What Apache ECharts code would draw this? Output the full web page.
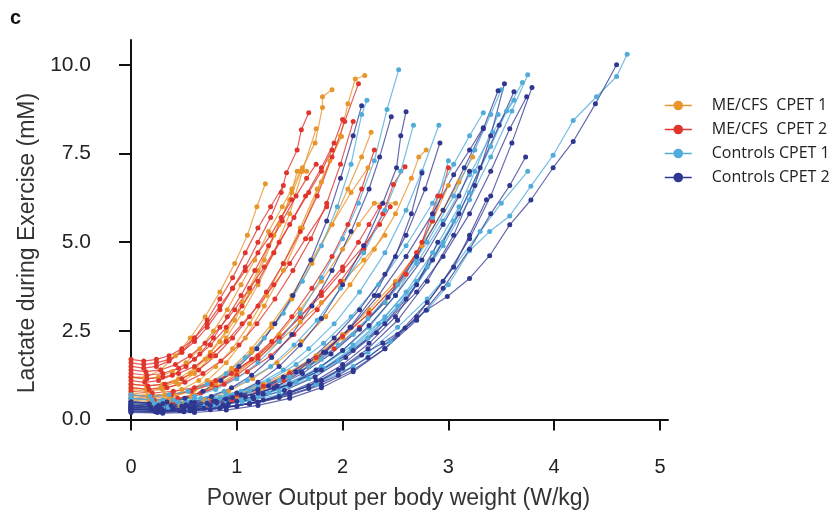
<!DOCTYPE html>
<html>
<head>
<meta charset="utf-8">
<script src="https://cdn.jsdelivr.net/npm/echarts@6/dist/echarts.min.js"></script>
<style>html,body{margin:0;padding:0;background:#fff}#c{width:834px;height:517px}</style>
</head>
<body>
<div id="c"></div>
<script>
const seriesNames = ['ME/CFS  CPET 1', 'ME/CFS  CPET 2', 'Controls CPET 1', 'Controls CPET 2'];
const xTicks = [0, 1, 2, 3, 4, 5];
const yTicks = [0, 2.5, 5, 7.5, 10];

// ME/CFS CPET 1 (orange) – one array of [W/kg, mM] per subject
const mecfsCpet1 = [
  [[0,1.2],[0.14,1.2],[0.28,1.4],[0.42,1.8],[0.56,2.3],[0.7,2.9],[0.84,3.6],[0.98,4.4],[1.1,5.2],[1.19,6.0],[1.27,6.65]],
  [[0,1.0],[0.15,0.95],[0.3,1.0],[0.45,1.15],[0.6,1.45],[0.75,1.9],[0.9,2.5],[1.05,3.3],[1.2,4.2],[1.35,5.2],[1.5,6.2],[1.62,7.1],[1.74,7.8],[1.81,8.8],[1.81,9.1],[1.9,9.3]],
  [[0,0.6],[0.18,0.55],[0.36,0.6],[0.54,0.8],[0.72,1.1],[0.9,1.6],[1.08,2.3],[1.26,3.2],[1.44,4.2],[1.62,5.4],[1.8,6.7],[1.98,8.0],[2.05,8.9],[2.12,9.6],[2.21,9.7]],
  [[0,0.5],[0.19,0.45],[0.38,0.5],[0.57,0.65],[0.76,0.95],[0.95,1.35],[1.14,1.9],[1.33,2.6],[1.52,3.4],[1.71,4.4],[1.9,5.5],[2.05,6.5],[2.18,7.4],[2.27,8.1]],
  [[0,0.4],[0.23,0.35],[0.46,0.4],[0.69,0.55],[0.92,0.8],[1.15,1.15],[1.38,1.6],[1.61,2.2],[1.84,2.9],[2.07,3.8],[2.3,4.8],[2.5,5.8],[2.65,6.8],[2.72,7.4],[2.79,7.6]],
  [[0,1.2],[0.13,1.15],[0.26,1.2],[0.39,1.35],[0.52,1.6],[0.65,2.0],[0.78,2.5],[0.91,3.1],[1.04,3.8],[1.17,4.5],[1.3,5.3],[1.43,6.0],[1.52,6.5],[1.6,7.0]],
  [[0,0.7],[0.16,0.65],[0.32,0.7],[0.48,0.85],[0.64,1.1],[0.8,1.5],[0.96,2.0],[1.12,2.7],[1.28,3.5],[1.44,4.4],[1.6,5.4],[1.76,6.5],[1.88,7.3],[1.99,7.98]],
  [[0,0.55],[0.2,0.5],[0.4,0.55],[0.6,0.7],[0.8,0.95],[1.0,1.3],[1.2,1.8],[1.4,2.4],[1.6,3.1],[1.8,3.9],[2.0,4.8],[2.15,5.5],[2.3,6.1],[2.5,6.1]],
  [[0,0.45],[0.25,0.4],[0.5,0.45],[0.75,0.55],[1.0,0.75],[1.25,1.0],[1.5,1.35],[1.75,1.8],[2.0,2.4],[2.25,3.1],[2.5,3.9],[2.75,4.9],[2.95,5.9],[3.1,6.7],[3.23,7.4]],
  [[0,0.9],[0.14,0.85],[0.28,0.9],[0.42,1.05],[0.56,1.3],[0.7,1.7],[0.84,2.2],[0.98,2.8],[1.12,3.6],[1.26,4.5],[1.4,5.5],[1.52,6.4],[1.57,7.0],[1.66,7.0]],
  [[0,0.65],[0.19,0.6],[0.38,0.65],[0.57,0.8],[0.76,1.05],[0.95,1.45],[1.14,2.0],[1.33,2.7],[1.52,3.5],[1.71,4.5],[1.9,5.5],[2.08,6.4],[2.24,7.1]],
  [[0,0.35],[0.25,0.3],[0.5,0.35],[0.75,0.45],[1.0,0.65],[1.25,0.9],[1.5,1.25],[1.75,1.7],[2.0,2.3],[2.25,3.0],[2.5,3.8],[2.7,4.7],[2.85,5.6],[3.0,6.6]],
  [[0,0.85],[0.15,0.8],[0.3,0.85],[0.45,1.0],[0.6,1.3],[0.75,1.75],[0.9,2.3],[1.05,3.0],[1.2,3.8],[1.35,4.7],[1.5,5.8],[1.62,7.0],[1.75,8.2]],
  [[0,0.75],[0.2,0.7],[0.4,0.72],[0.6,0.85],[0.8,1.05],[1.0,1.35],[1.2,1.75],[1.4,2.2],[1.6,2.75],[1.8,3.3],[2.0,3.9],[2.2,4.5],[2.4,5.2]]
];

// ME/CFS CPET 2 (red)
const mecfsCpet2 = [
  [[0,1.6],[0.12,1.55],[0.24,1.6],[0.36,1.7],[0.48,1.9],[0.6,2.2],[0.72,2.6],[0.84,3.1],[0.96,3.7],[1.08,4.3],[1.2,5.0],[1.32,5.7],[1.42,6.4],[1.47,6.96],[1.57,7.6],[1.61,8.17],[1.68,8.65]],
  [[0,1.0],[0.16,0.95],[0.32,1.0],[0.48,1.15],[0.64,1.4],[0.8,1.8],[0.96,2.3],[1.12,2.9],[1.28,3.6],[1.44,4.4],[1.6,5.3],[1.76,6.3],[1.9,7.4],[2.02,8.4],[2.15,9.47]],
  [[0,1.3],[0.15,1.25],[0.3,1.3],[0.45,1.45],[0.6,1.7],[0.75,2.1],[0.9,2.6],[1.05,3.2],[1.2,3.9],[1.35,4.7],[1.5,5.5],[1.65,6.3],[1.8,7.1],[1.92,7.8],[2.0,8.46]],
  [[0,1.5],[0.12,1.45],[0.24,1.5],[0.36,1.65],[0.48,1.9],[0.6,2.3],[0.72,2.8],[0.84,3.4],[0.96,4.0],[1.08,4.7],[1.2,5.4],[1.32,6.0],[1.44,6.6]],
  [[0,0.6],[0.22,0.55],[0.44,0.6],[0.66,0.75],[0.88,1.0],[1.1,1.35],[1.32,1.8],[1.54,2.4],[1.76,3.1],[1.98,3.9],[2.2,4.8],[2.38,5.8],[2.48,6.63],[2.59,7.13]],
  [[0,0.9],[0.17,0.85],[0.34,0.9],[0.51,1.05],[0.68,1.3],[0.85,1.65],[1.02,2.1],[1.19,2.7],[1.36,3.4],[1.53,4.2],[1.7,5.1],[1.85,6.1],[1.98,7.2],[2.1,8.4]],
  [[0,0.4],[0.25,0.35],[0.5,0.4],[0.75,0.5],[1.0,0.7],[1.25,0.95],[1.5,1.3],[1.75,1.75],[2.0,2.35],[2.25,3.0],[2.5,3.8],[2.7,4.7],[2.85,5.6],[2.93,6.3],[3.0,7.1]],
  [[0,1.4],[0.14,1.35],[0.28,1.4],[0.42,1.55],[0.56,1.8],[0.7,2.15],[0.84,2.6],[0.98,3.1],[1.12,3.7],[1.26,4.3],[1.4,5.0],[1.54,5.7],[1.68,6.4],[1.8,7.0],[1.9,7.6]],
  [[0,1.1],[0.13,1.05],[0.26,1.1],[0.39,1.25],[0.52,1.5],[0.65,1.85],[0.78,2.3],[0.91,2.9],[1.04,3.5],[1.17,4.2],[1.3,4.9],[1.43,5.6],[1.56,6.3],[1.66,6.8],[1.75,7.2]],
  [[0,0.5],[0.2,0.45],[0.4,0.5],[0.6,0.65],[0.8,0.9],[1.0,1.25],[1.2,1.7],[1.4,2.3],[1.6,2.9],[1.8,3.6],[2.0,4.3],[2.15,5.0],[2.25,5.5],[2.35,6.0]],
  [[0,0.3],[0.24,0.28],[0.48,0.3],[0.72,0.4],[0.96,0.55],[1.2,0.8],[1.44,1.1],[1.68,1.5],[1.92,2.0],[2.16,2.6],[2.4,3.3],[2.6,4.1],[2.75,5.0],[2.9,6.3]],
  [[0,1.7],[0.12,1.65],[0.24,1.7],[0.36,1.8],[0.48,2.0],[0.6,2.3],[0.72,2.7],[0.84,3.2],[0.96,3.7],[1.08,4.2],[1.2,4.7],[1.32,5.2],[1.42,5.7],[1.52,6.2]],
  [[0,0.8],[0.2,0.75],[0.4,0.8],[0.6,0.9],[0.8,1.1],[1.0,1.4],[1.2,1.8],[1.4,2.3],[1.6,2.9],[1.8,3.5],[2.0,4.2],[2.2,4.9],[2.35,5.5],[2.45,6.0]],
  [[0,1.2],[0.15,1.15],[0.3,1.2],[0.45,1.3],[0.6,1.5],[0.75,1.8],[0.9,2.2],[1.05,2.7],[1.2,3.2],[1.35,3.8],[1.5,4.4],[1.65,5.1],[1.85,6.0]],
  [[0,0.7],[0.19,0.65],[0.38,0.7],[0.57,0.8],[0.76,1.0],[0.95,1.3],[1.14,1.7],[1.33,2.2],[1.52,2.9],[1.71,3.7],[1.9,4.6],[2.05,5.5],[2.18,6.5],[2.3,7.6]]
];

// Controls CPET 1 (light blue)
const controlsCpet1 = [
  [[0,0.6],[0.2,0.55],[0.4,0.55],[0.6,0.65],[0.8,0.85],[1.0,1.15],[1.2,1.6],[1.4,2.2],[1.6,3.0],[1.8,4.0],[2.0,5.1],[2.15,6.1],[2.3,7.3],[2.42,8.74],[2.53,9.86]],
  [[0,0.4],[0.24,0.38],[0.48,0.4],[0.72,0.5],[0.96,0.7],[1.2,1.0],[1.44,1.4],[1.68,2.0],[1.92,2.7],[2.16,3.6],[2.4,4.7],[2.6,5.9],[2.75,7.0],[2.91,8.3]],
  [[0,0.5],[0.22,0.45],[0.44,0.5],[0.66,0.6],[0.88,0.8],[1.1,1.1],[1.32,1.5],[1.54,2.1],[1.76,2.8],[1.98,3.7],[2.2,4.7],[2.4,5.9],[2.55,7.0],[2.67,8.3]],
  [[0,0.35],[0.3,0.3],[0.6,0.35],[0.9,0.45],[1.2,0.65],[1.5,0.95],[1.8,1.4],[2.1,2.0],[2.4,2.8],[2.7,3.8],[2.95,4.9],[3.2,6.2],[3.4,7.4],[3.6,8.7],[3.75,9.72]],
  [[0,0.4],[0.35,0.35],[0.7,0.4],[1.05,0.5],[1.4,0.7],[1.75,1.0],[2.1,1.5],[2.45,2.2],[2.8,3.1],[3.0,3.8],[3.2,4.76],[3.39,5.3],[3.58,5.74],[3.78,6.58],[3.99,7.45],[4.18,8.43],[4.4,9.1],[4.59,9.67],[4.69,10.3]],
  [[0,0.5],[0.26,0.45],[0.52,0.5],[0.78,0.6],[1.04,0.8],[1.3,1.1],[1.56,1.55],[1.82,2.15],[2.08,2.9],[2.34,3.8],[2.6,4.9],[2.85,6.1],[3.05,7.2],[3.2,8.0],[3.33,8.65]],
  [[0,0.3],[0.28,0.28],[0.56,0.3],[0.84,0.4],[1.12,0.55],[1.4,0.8],[1.68,1.15],[1.96,1.65],[2.24,2.3],[2.52,3.2],[2.8,4.3],[3.05,5.6],[3.25,7.0],[3.47,8.6]],
  [[0,0.25],[0.28,0.22],[0.56,0.25],[0.84,0.32],[1.12,0.45],[1.4,0.65],[1.68,0.95],[1.96,1.35],[2.24,1.9],[2.52,2.6],[2.8,3.4],[3.05,4.3],[3.3,5.3],[3.5,6.1],[3.75,7.0]],
  [[0,0.6],[0.3,0.55],[0.6,0.6],[0.9,0.7],[1.2,0.9],[1.5,1.2],[1.8,1.7],[2.1,2.4],[2.4,3.3],[2.7,4.4],[2.95,5.6],[3.2,6.9],[3.42,8.1],[3.62,9.0]],
  [[0,0.7],[0.18,0.65],[0.36,0.7],[0.54,0.8],[0.72,1.0],[0.9,1.3],[1.08,1.75],[1.26,2.3],[1.44,3.0],[1.62,3.9],[1.8,4.9],[1.95,6.0],[2.08,7.2],[2.18,8.6],[2.23,9.0]],
  [[0,0.35],[0.26,0.3],[0.52,0.35],[0.78,0.42],[1.04,0.55],[1.3,0.75],[1.56,1.05],[1.82,1.45],[2.08,2.0],[2.34,2.7],[2.6,3.6],[2.85,4.7],[3.1,6.0]],
  [[0,0.45],[0.3,0.4],[0.6,0.45],[0.9,0.55],[1.2,0.75],[1.5,1.05],[1.8,1.5],[2.1,2.1],[2.4,2.9],[2.7,3.9],[2.95,5.0],[3.2,6.4],[3.4,7.7],[3.55,8.7],[3.7,9.5]],
  [[0,0.3],[0.25,0.28],[0.5,0.3],[0.75,0.38],[1.0,0.5],[1.25,0.7],[1.5,1.0],[1.75,1.4],[2.0,1.95],[2.25,2.6],[2.5,3.5],[2.7,4.5],[2.85,5.7],[3.0,7.3]],
  [[0,0.5],[0.28,0.45],[0.56,0.5],[0.84,0.6],[1.12,0.8],[1.4,1.1],[1.68,1.5],[1.96,2.1],[2.24,2.85],[2.52,3.8],[2.8,5.0],[3.05,6.3],[3.25,7.6],[3.4,8.6],[3.5,9.3]]
];

// Controls CPET 2 (dark blue)
const controlsCpet2 = [
  [[0,0.5],[0.17,0.45],[0.34,0.5],[0.51,0.6],[0.68,0.8],[0.85,1.1],[1.02,1.5],[1.19,2.0],[1.36,2.7],[1.53,3.5],[1.7,4.5],[1.85,5.6],[1.98,6.8],[2.1,8.0],[2.18,8.85]],
  [[0,0.3],[0.2,0.28],[0.4,0.3],[0.6,0.38],[0.8,0.52],[1.0,0.75],[1.2,1.05],[1.4,1.5],[1.6,2.1],[1.8,2.85],[2.0,3.8],[2.2,4.9],[2.38,6.1],[2.51,7.1],[2.55,8.0],[2.6,8.68]],
  [[0,0.4],[0.19,0.35],[0.38,0.4],[0.57,0.48],[0.76,0.65],[0.95,0.9],[1.14,1.25],[1.33,1.75],[1.52,2.4],[1.71,3.2],[1.9,4.2],[2.08,5.3],[2.25,6.5],[2.35,7.4],[2.46,8.54]],
  [[0,0.25],[0.23,0.22],[0.46,0.25],[0.69,0.32],[0.92,0.45],[1.15,0.65],[1.38,0.95],[1.61,1.35],[1.84,1.9],[2.07,2.6],[2.3,3.5],[2.5,4.6],[2.65,5.8],[2.75,6.95]],
  [[0,0.3],[0.3,0.25],[0.6,0.28],[0.9,0.35],[1.2,0.5],[1.5,0.75],[1.8,1.1],[2.0,1.45],[2.18,1.82],[2.38,2.16],[2.59,2.58],[2.79,3.08],[2.99,3.47],[3.2,3.98],[3.39,4.62],[3.58,5.49],[3.78,6.19],[3.99,7.1],[4.18,7.84],[4.39,8.9],[4.59,10.0]],
  [[0,0.25],[0.28,0.22],[0.56,0.25],[0.84,0.32],[1.12,0.45],[1.4,0.65],[1.68,0.95],[1.96,1.4],[2.24,2.0],[2.52,2.8],[2.8,3.9],[3.05,5.2],[3.25,6.6],[3.4,8.0],[3.53,9.47]],
  [[0,0.2],[0.3,0.18],[0.6,0.2],[0.9,0.27],[1.2,0.4],[1.5,0.6],[1.8,0.9],[2.1,1.35],[2.4,2.0],[2.7,2.9],[2.95,3.9],[3.2,5.1],[3.4,6.3],[3.6,7.8],[3.79,9.36]],
  [[0,0.35],[0.29,0.3],[0.58,0.33],[0.87,0.42],[1.16,0.58],[1.45,0.82],[1.74,1.2],[2.03,1.75],[2.32,2.45],[2.6,3.4],[2.85,4.5],[3.1,5.8],[3.3,7.1],[3.48,8.3],[3.62,9.24]],
  [[0,0.4],[0.27,0.35],[0.54,0.38],[0.81,0.48],[1.08,0.65],[1.35,0.9],[1.62,1.3],[1.89,1.85],[2.16,2.55],[2.43,3.45],[2.7,4.6],[2.95,5.9],[3.15,7.1],[3.33,8.2],[3.47,9.27]],
  [[0,0.3],[0.3,0.26],[0.6,0.3],[0.9,0.36],[1.2,0.48],[1.5,0.68],[1.8,0.98],[2.1,1.4],[2.4,2.0],[2.7,2.8],[2.95,3.7],[3.2,4.8],[3.4,5.8],[3.58,6.6],[3.73,7.4]],
  [[0,0.45],[0.26,0.4],[0.52,0.42],[0.78,0.52],[1.04,0.7],[1.3,0.95],[1.56,1.35],[1.82,1.9],[2.08,2.6],[2.34,3.5],[2.6,4.6],[2.85,5.8],[3.05,6.9],[3.2,7.6],[3.33,8.23]],
  [[0,0.5],[0.3,0.45],[0.6,0.48],[0.9,0.58],[1.2,0.75],[1.5,1.0],[1.8,1.4],[2.1,1.95],[2.4,2.7],[2.7,3.6],[2.95,4.6],[3.2,5.8],[3.4,7.0],[3.58,8.2],[3.74,9.1]],
  [[0,0.22],[0.25,0.2],[0.5,0.22],[0.75,0.28],[1.0,0.38],[1.25,0.55],[1.5,0.78],[1.75,1.1],[2.0,1.55],[2.25,2.15],[2.5,2.9],[2.7,3.8],[2.9,5.0]],
  [[0,0.35],[0.25,0.3],[0.5,0.33],[0.75,0.4],[1.0,0.52],[1.25,0.72],[1.5,1.0],[1.75,1.4],[2.0,1.95],[2.25,2.65],[2.5,3.5],[2.75,4.5],[2.95,5.5],[3.1,6.3],[3.2,7.0]],
  [[0,0.28],[0.28,0.25],[0.56,0.27],[0.84,0.33],[1.12,0.45],[1.4,0.62],[1.68,0.88],[1.96,1.25],[2.24,1.75],[2.52,2.4],[2.8,3.3],[3.05,4.3],[3.2,5.2],[3.36,6.2]],
  [[0,0.4],[0.24,0.35],[0.48,0.38],[0.72,0.46],[0.96,0.62],[1.2,0.85],[1.44,1.2],[1.68,1.65],[1.92,2.3],[2.16,3.1],[2.4,4.1],[2.6,5.2],[2.78,6.5],[2.92,7.8]]
];

const groups = [mecfsCpet1, mecfsCpet2, controlsCpet1, controlsCpet2];
const colors = ['#E8962C', '#E0352D', '#52ACDA', '#2F3790'];
const lineColors = ['rgba(232,150,44,0.8)', 'rgba(224,53,45,0.8)', 'rgba(82,172,218,0.8)', 'rgba(47,55,144,0.75)'];

const series = [];
groups.forEach((curves, g) => {
  curves.forEach(curve => {
    series.push({
      type: 'line', name: seriesNames[g], data: curve,
      symbol: 'circle', symbolSize: 5, showSymbol: true,
      lineStyle: { width: 1.2, color: lineColors[g] },
      itemStyle: { color: colors[g] },
      emphasis: { disabled: true }, animation: false
    });
  });
});

const chart = echarts.init(document.getElementById('c'), null, { renderer: 'canvas' });
const font = 'Liberation Sans, Arial, Helvetica, sans-serif';
chart.setOption({
  backgroundColor: '#fff',
  animation: false,
  color: colors,
  graphic: [{ type: 'text', left: 10, top: 8, style: { text: 'c', font: 'bold 20px ' + font, fill: '#111' } }],
  legend: {
    data: seriesNames.map((n, i) => ({ name: n, itemStyle: { color: colors[i] }, lineStyle: { color: colors[i], width: 1.5 } })),
    orient: 'vertical', left: 659, top: 92, itemWidth: 27, itemHeight: 12, itemGap: 7,
    textStyle: { fontFamily: 'Open Sans, ' + font, fontSize: 16, lineHeight: 17, color: '#222', padding: [0, 0, 0, 15] }
  },
  grid: { left: 107, top: 40, width: 561, height: 386, containLabel: false },
  xAxis: {
    type: 'value', min: -0.227, max: 5.076,
    name: 'Power Output per body weight (W/kg)', nameLocation: 'middle', nameGap: 61,
    nameTextStyle: { fontFamily: font, fontSize: 23, color: '#333', padding: [0, 0, 0, 22] },
    axisLine: { show: true, lineStyle: { color: '#111', width: 2 } },
    axisTick: { show: true, length: 11, lineStyle: { color: '#111', width: 2 }, customValues: xTicks },
    axisLabel: { customValues: xTicks, margin: 31, fontFamily: font, fontSize: 20, color: '#222', formatter: v => String(v) },
    splitLine: { show: false }
  },
  yAxis: {
    type: 'value', min: -0.18, max: 10.7,
    name: 'Lactate during Exercise (mM)', nameLocation: 'middle', nameGap: 57,
    nameTextStyle: { fontFamily: font, fontSize: 23, color: '#333', padding: [0, 0, 0, -20] },
    axisLine: { show: true, lineStyle: { color: '#111', width: 2 } },
    axisTick: { show: true, length: 12, lineStyle: { color: '#111', width: 2 }, customValues: yTicks },
    axisLabel: { customValues: yTicks, margin: 16, fontFamily: font, fontSize: 21, color: '#222', formatter: v => v.toFixed(1) },
    splitLine: { show: false }
  },
  series: series
});
</script>
</body>
</html>
